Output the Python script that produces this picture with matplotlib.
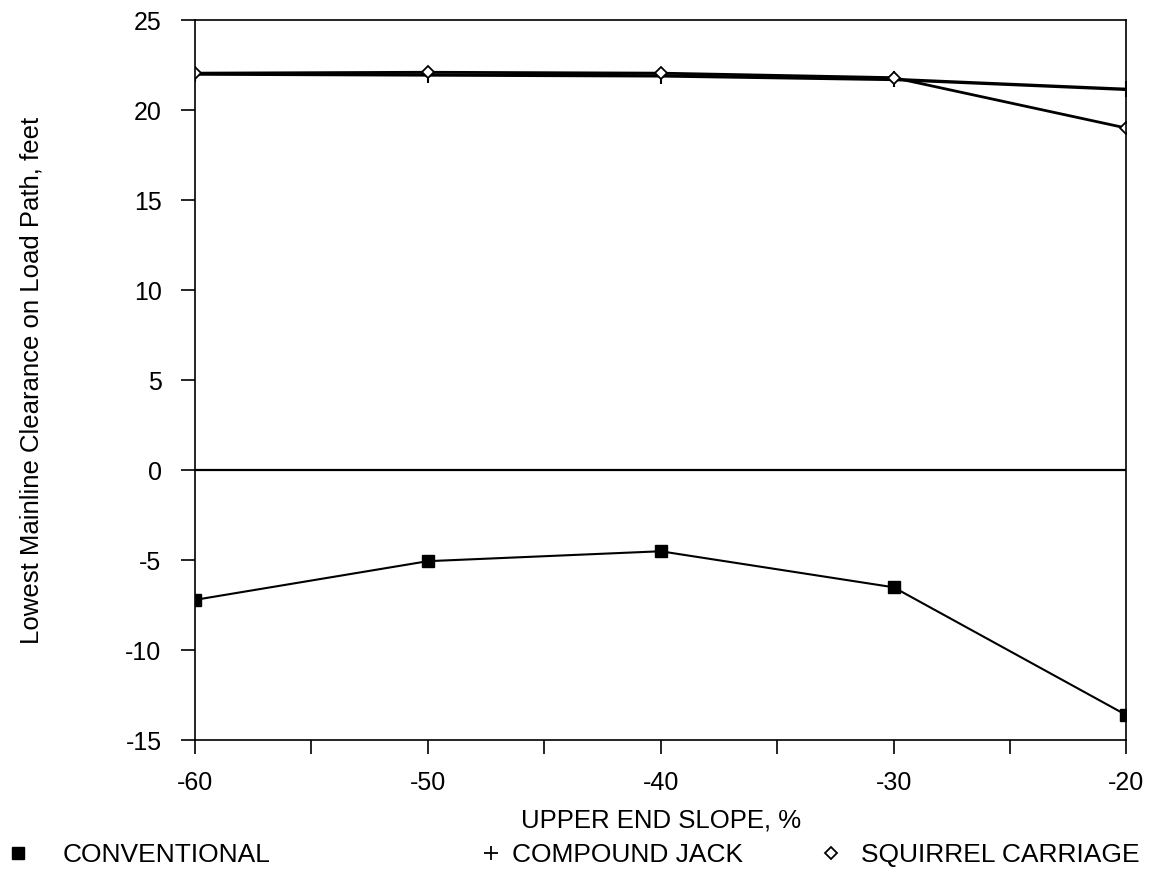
import numpy as np
import matplotlib
matplotlib.use("Agg")
import matplotlib.pyplot as plt
from matplotlib.lines import Line2D
from matplotlib.ticker import MultipleLocator

plt.rcParams['font.family'] = ['Liberation Sans', 'DejaVu Sans']
plt.rcParams['axes.unicode_minus'] = False

# upper end slope, %
slope = [-60, -50, -40, -30, -20]

# lowest mainline clearance on load path, feet
conventional = [-7.2, -5.05, -4.5, -6.5, -13.6]
compound_jack = [22.0, 21.95, 21.9, 21.7, 21.15]
squirrel_carriage = [22.05, 22.1, 22.05, 21.8, 19.0]

fig = plt.figure(figsize=(11.53, 8.71), dpi=100)
ax = fig.add_axes([0.169, 0.150, 0.808, 0.827])

ax.plot(slope, compound_jack, color='black', lw=2.4, marker='+', ms=12, mew=1.5)
ax.plot(slope, squirrel_carriage, color='black', lw=2.0, marker='D', ms=6,
        mfc='white', mec='black', mew=1.3)
ax.plot(slope, conventional, color='black', lw=1.5, marker='s', ms=8.5, mfc='black')
ax.axhline(0, color='black', lw=1.6)

ax.set_xlim(-60, -20)
ax.set_ylim(-15, 25)
ax.xaxis.set_major_locator(MultipleLocator(10))
ax.xaxis.set_minor_locator(MultipleLocator(5))
ax.yaxis.set_major_locator(MultipleLocator(5))
ax.tick_params(axis='both', which='both', direction='out', top=False, right=False,
               width=1.2, labelsize=18)
ax.tick_params(axis='y', which='major', length=10, pad=14)
ax.tick_params(axis='x', which='both', length=10)
ax.tick_params(axis='x', which='major', pad=12)
for s in ax.spines.values():
    s.set_linewidth(1.2)

ax.set_xlabel('UPPER END SLOPE, %', fontsize=18.5)
ax.xaxis.set_label_coords(0.5, -0.095)
ax.set_ylabel('Lowest Mainline Clearance on Load Path, feet', fontsize=18.5)
ax.yaxis.set_label_coords(-0.162, 0.5)

# legend entries spread across bottom
entries = [
    (Line2D([], [], ls='none', marker='s', ms=8, color='black'), 'CONVENTIONAL', 4.5, 1.2),
    (Line2D([], [], ls='none', marker='+', ms=10, mew=1.3, color='black'),
     'COMPOUND JACK', 477.5, 0.3),
    (Line2D([], [], ls='none', marker='D', ms=6, mfc='white', mec='black', mew=1.3),
     'SQUIRREL CARRIAGE', 817.5, 0.65),
]
for h, lab, x0, tp in entries:
    fig.legend([h], [lab], loc='center left', bbox_to_anchor=(x0 / 1153, 1 - 855 / 871),
               frameon=False, fontsize=19, handlelength=1.0, handletextpad=tp,
               borderpad=0, borderaxespad=0)

fig.savefig('out.png', dpi=100)
